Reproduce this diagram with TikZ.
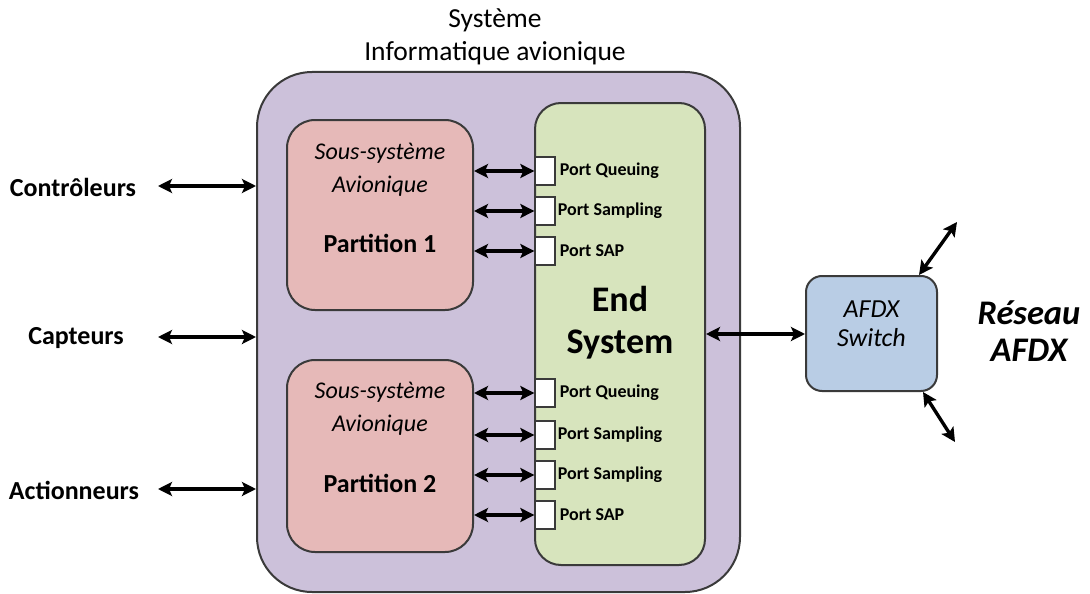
\documentclass[tikz,border=0pt]{standalone}
\usepackage{fontspec}
\setmainfont{Carlito}
\usetikzlibrary{arrows.meta}
\definecolor{purp}{HTML}{CCC1DA}
\definecolor{pink}{HTML}{E6B9B8}
\definecolor{grn}{HTML}{D7E4BD}
\definecolor{blu}{HTML}{B9CDE5}
\definecolor{edge}{HTML}{3A3A3A}
\newcommand{\fs}[1]{\fontsize{#1}{#1}\selectfont}
\tikzset{
  box/.style={draw=edge, line width=2pt, inner sep=0pt},
  port/.style={draw=edge, line width=1.3pt, fill=white, minimum width=20pt, minimum height=28pt, inner sep=0pt},
  portlbl/.style={anchor=west, inner sep=0pt, font=\fs{18}\bfseries},
  conn/.style={line width=3.4pt, {Stealth[length=14pt,width=14pt,inset=3pt]}-{Stealth[length=14pt,width=14pt,inset=3pt]}},
  lbl/.style={inner sep=0pt, font=\fs{26}\bfseries},
}
\begin{document}
\begin{tikzpicture}[x=1pt,y=-1pt]
\useasboundingbox (0,0) rectangle (1090,594);
% outer
\node[box, fill=purp, rounded corners=55pt, minimum width=483pt, minimum height=520pt] (outer) at (498.5,332) {};
\node[inner sep=0pt, font=\fs{27.5}, align=center] (title) at (495,37) {Système\\[5pt]Informatique avionique};
% partitions
\node[box, fill=pink, rounded corners=28pt, minimum width=186pt, minimum height=190pt] (p1) at (380,215) {};
\node[box, fill=pink, rounded corners=28pt, minimum width=186pt, minimum height=192pt] (p2) at (380,456) {};
\node[inner sep=0pt, font=\fs{24}\itshape] (p1a) at (380,153) {Sous-système};
\node[inner sep=0pt, font=\fs{24}\itshape] (p1b) at (380,186) {Avionique};
\node[inner sep=0pt, font=\fs{26}\bfseries] (p1c) at (380,243) {Partition 1};
\node[inner sep=0pt, font=\fs{24}\itshape] (p2a) at (380,392) {Sous-système};
\node[inner sep=0pt, font=\fs{24}\itshape] (p2b) at (380,425) {Avionique};
\node[inner sep=0pt, font=\fs{26}\bfseries] (p2c) at (380,483) {Partition 2};
% end system
\node[box, fill=grn, rounded corners=26pt, minimum width=170pt, minimum height=462pt] (es) at (620,334) {};
\node[inner sep=0pt, font=\fs{36}\bfseries, align=center] (estxt) at (620,323) {End\\[6pt]System};
% ports
\node[port] (q1) at (545,171) {};
\node[port] (s1) at (545,211) {};
\node[port] (a1) at (545,251) {};
\node[port] (q2) at (545,393) {};
\node[port] (s2) at (545,435) {};
\node[port] (s3) at (545,475) {};
\node[port] (a2) at (545,515) {};
\node[portlbl] (lq1) at ([xshift=4pt]q1.east) {Port Queuing};
\node[portlbl] (ls1) at ([xshift=2pt]s1.east) {Port Sampling};
\node[portlbl] (la1) at ([xshift=4pt]a1.east) {Port SAP};
\node[portlbl] (lq2) at ([xshift=4pt]q2.east) {Port Queuing};
\node[portlbl] (ls2) at ([xshift=2pt]s2.east) {Port Sampling};
\node[portlbl] (ls3) at ([xshift=2pt]s3.east) {Port Sampling};
\node[portlbl] (la2) at ([xshift=4pt]a2.east) {Port SAP};
\foreach \p/\q in {p1/q1,p1/s1,p1/a1,p2/q2,p2/s2,p2/s3,p2/a2}
  \draw[conn] (\p.east |- \q.west) -- (\q.west);
% switch
\node[box, fill=blu, rounded corners=16pt, minimum width=131pt, minimum height=115pt] (sw) at (871.5,333.5) {};
\node[inner sep=0pt, font=\fs{26}\itshape, align=center] (swtxt) at (871.5,324) {AFDX\\[3pt]Switch};
\draw[conn] (es.east |- 0,334) coordinate (esr) -- (sw.west |- esr);
\coordinate (n1) at (957,222);
\coordinate (n2) at (955,442);
\draw[conn] ([xshift=-19pt]sw.north east) -- (n1);
\draw[conn] ([xshift=-15pt]sw.south east) -- (n2);
\node[inner sep=0pt, font=\fs{34.5}\bfseries\itshape, align=center] (net) at (1029,331) {Réseau\\[3pt]AFDX};
% left
\node[lbl] (ctrl) at (73,187) {Contrôleurs};
\node[lbl] (capt) at (76,338) {Capteurs};
\node[lbl] (act) at (74,490) {Actionneurs};
\foreach \n in {ctrl,capt,act}
  \draw[conn] ([xshift=158pt]\n.center -| 0,0) ++(0,-1) coordinate (c\n) -- (outer.west |- c\n);
\end{tikzpicture}
\end{document}
